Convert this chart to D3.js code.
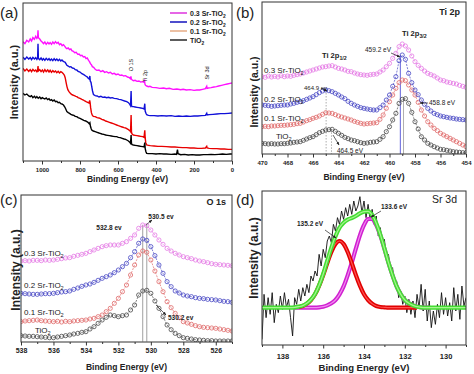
<!DOCTYPE html>
<html><head><meta charset="utf-8">
<script src="https://cdn.jsdelivr.net/npm/d3@7"></script>
<style>body{margin:0;background:#fff}svg{display:block}text{font-family:"Liberation Sans",Arial,sans-serif}</style>
</head><body><svg id="c" width="474" height="374"></svg>
<script>
// ---------- DATA ----------
// (a) survey spectra: [binding energy eV, intensity a.u.]
const surveyNames = ["0.3 Sr-TiO2","0.2 Sr-TiO2","0.1 Sr-TiO2","TiO2"];
const survey03 = [[1100,358],[1090,352],[1080,362],[1070,357],[1062,366],[1055,360],[1048,370],[1040,365],[1033,374],[1027,368],[1023,372],[1021,392],[1019,370],[1012,366],[1005,360],[998,356],[992,352],[985,357],[978,350],[970,356],[963,351],[957,355],[950,350],[943,357],[936,352],[929,358],[922,353],[915,356],[908,349],[901,352],[894,346],[887,349],[880,344],[875,340],[869,337],[862,339],[855,334],[848,336],[843,331],[835,329],[828,325],[820,326],[812,320],[805,321],[797,316],[790,317],[782,312],[775,313],[768,307],[762,309],[755,302],[750,298],[745,292],[740,289],[735,283],[728,281],[720,275],[712,272],[700,273],[690,268],[680,271],[670,266],[660,268],[650,264],[640,266],[630,261],[620,263],[610,259],[600,261],[590,257],[580,258],[570,255],[560,256],[550,252],[540,250],[535,247],[532,254],[530,246],[525,243],[519,241],[510,242],[500,239],[490,240],[480,237],[470,238],[463,236],[460,240],[458,230],[455,227],[449,225],[440,223],[432,224],[420,221],[400,220],[380,218],[360,219],[345,217],[330,218],[310,215],[290,216],[270,214],[257,215],[240,213],[220,214],[200,212],[185,213],[170,213],[155,215],[140,217],[133,224],[131,218],[125,219],[110,220],[95,222],[82,223],[70,225],[55,227],[40,229],[25,231],[10,233],[0,234]];
const survey02 = [[1100,311],[1090,305],[1080,312],[1070,306],[1062,310],[1055,304],[1048,311],[1040,306],[1033,310],[1027,305],[1023,309],[1021,352],[1019,308],[1012,304],[1005,309],[998,303],[992,307],[985,302],[978,308],[970,303],[963,307],[957,302],[950,306],[943,301],[936,307],[929,302],[922,306],[915,301],[908,305],[901,300],[895,303],[888,299],[882,297],[878,296],[874,292],[869,287],[862,285],[855,282],[848,283],[840,279],[832,278],[825,274],[817,273],[810,269],[800,267],[790,262],[780,259],[770,255],[764,253],[758,249],[752,246],[748,255],[746,240],[742,236],[738,222],[734,210],[729,199],[720,196],[710,195],[700,192],[690,194],[680,191],[670,192],[660,190],[650,191],[640,189],[630,190],[620,188],[607,187],[595,185],[585,184],[575,182],[565,180],[554,178],[545,175],[538,170],[534,166],[531,210],[529,165],[524,163],[519,163],[510,162],[500,161],[490,160],[480,159],[470,158],[463,156],[459,172],[457,150],[453,143],[449,139],[440,137],[430,136],[410,136],[390,135],[370,136],[345,135],[320,136],[300,134],[280,135],[260,134],[240,135],[220,134],[200,135],[180,135],[160,136],[140,137],[133,143],[131,138],[120,139],[100,140],[80,141],[60,142],[40,142],[20,143],[0,144]];
const survey01 = [[1100,278],[1090,270],[1080,276],[1070,269],[1062,274],[1055,268],[1048,275],[1040,270],[1033,273],[1027,268],[1023,272],[1021,285],[1019,270],[1012,274],[1005,268],[998,273],[992,267],[985,274],[978,268],[970,273],[963,267],[957,272],[950,266],[943,271],[936,267],[929,270],[922,265],[915,269],[908,264],[901,268],[895,266],[888,262],[882,257],[878,250],[874,238],[869,224],[864,214],[858,208],[852,204],[845,200],[838,198],[830,196],[822,194],[817,193],[810,190],[800,188],[790,185],[782,183],[775,180],[768,178],[760,176],[753,174],[749,182],[747,176],[744,160],[740,145],[736,138],[730,134],[720,133],[710,130],[700,129],[694,128],[685,125],[675,123],[665,120],[655,118],[645,116],[635,114],[625,112],[615,110],[607,108],[598,106],[588,104],[578,102],[568,100],[560,99],[554,97],[545,94],[538,91],[534,88],[531,138],[529,86],[525,80],[519,78],[510,77],[500,76],[490,75],[480,74],[470,73],[463,71],[459,92],[457,70],[454,55],[449,48],[440,47],[430,46],[410,45],[390,44],[370,44],[345,43],[320,42],[300,42],[280,41],[260,40],[240,40],[220,39],[200,39],[180,38],[160,38],[140,39],[133,44],[131,39],[120,38],[100,37],[80,37],[60,36],[40,36],[20,35],[0,35]];
const survey00 = [[1100,203],[1090,198],[1080,201],[1070,195],[1062,193],[1055,196],[1048,190],[1040,194],[1033,189],[1027,193],[1020,188],[1012,192],[1005,187],[998,190],[992,188],[985,186],[978,189],[970,184],[963,187],[957,182],[950,184],[943,180],[936,183],[929,178],[922,179],[915,175],[908,176],[901,172],[895,171],[887,168],[880,162],[875,156],[869,148],[862,145],[855,143],[848,140],[840,138],[832,137],[825,134],[817,133],[810,130],[800,128],[790,125],[780,122],[770,120],[764,118],[758,116],[752,112],[748,115],[745,104],[741,97],[738,93],[730,90],[720,88],[710,86],[700,84],[694,83],[685,81],[675,80],[665,78],[655,77],[645,76],[635,75],[625,74],[615,73],[607,73],[598,71],[588,70],[578,68],[568,66],[560,65],[554,63],[545,60],[538,56],[534,53],[531,78],[529,52],[525,49],[519,48],[510,47],[500,46],[490,45],[480,44],[470,43],[463,42],[459,55],[457,38],[453,28],[449,23],[440,22],[420,22],[400,21],[380,22],[360,21],[345,21],[320,20],[300,21],[292,20],[287,34],[284,22],[270,19],[250,20],[230,18],[210,19],[190,18],[170,18],[150,19],[130,19],[110,20],[90,19],[70,20],[50,21],[30,20],[10,21],[0,21]];
const surveyTicks = [0,200,400,600,800,1000];
const surveyMinor = [100,300,500,700,900,1100];
const surveyPeakNames = ["O 1S","Ti 2p","Sr 3d"];
const surveyPeakE = [531,458,133];

// (b) Ti 2p, energies 470 -> 454 eV in 0.25 eV steps
const tiStart = 470, tiStep = 0.25;
const ti03 = [232,230,234,231,233,231,235,232,234,233,236,238,240,243,246,249,252,255,258,261,262,264,265,261,257,255,252,248,247,243,240,238,237,236,238,239,240,246,252,262,272,287,302,322,330,324,312,294,277,266,257,249,242,238,234,228,222,220,216,214,212,210,206,203,200];
const ti02 = [147,146,145,143,144,145,146,147,147,150,152,155,157,160,164,168,172,178,184,189,192,190,187,182,177,171,166,158,152,147,143,139,137,135,133,132,132,139,147,162,177,203,232,280,297,284,242,214,192,178,162,149,137,129,122,118,114,112,110,108,107,105,104,103,102];
const ti01 = [82,83,82,84,84,85,86,86,87,88,89,91,92,96,100,103,107,110,114,119,124,123,122,118,114,111,108,105,102,98,95,92,90,91,92,93,94,104,117,137,157,177,197,214,222,220,207,192,177,155,132,114,97,87,77,70,62,57,52,47,42,37,32,27,22];
const ti00 = [32,31,30,31,30,30,31,31,32,33,35,36,37,41,45,49,52,58,64,68,72,73,74,68,62,56,50,46,42,40,37,34,32,33,35,36,37,44,52,67,82,102,122,152,164,166,152,125,97,75,52,42,32,27,22,18,14,13,11,9,7,6,5,4,4];
const tiTicks = [454,456,458,460,462,464,466,468,470];
const tiMinor = [455,457,459,461,463,465,467,469];
const tiGuideE = [464.97,464.55,459.15,458.9];
const tiGuideTop = [192,74,297,166];

// (c) O 1s, energies 538 -> 525 eV in 0.25 eV steps
const oStart = 538, oStep = 0.25;
const o03 = [242,243,242,244,244,243,245,244,245,247,249,251,252,256,259,262,265,270,275,280,285,288,290,290,290,295,300,310,320,340,350,348,335,320,305,292,280,272,265,260,255,252,249,245,242,240,237,234,232,231,230,229,228];
const o02 = [145,144,143,142,142,143,144,144,145,147,149,150,152,157,161,166,170,173,178,184,190,195,200,207,215,225,235,252,270,295,308,304,285,258,230,205,180,165,152,146,140,137,135,132,130,129,127,126,125,123,121,120,118];
const o01 = [60,62,63,64,65,63,62,61,60,61,59,61,60,62,63,64,65,68,70,75,80,90,100,115,130,150,170,200,230,260,272,268,245,212,180,150,120,102,85,72,60,56,52,48,45,43,42,41,40,38,36,34,32];
const o00 = [18,17,16,16,15,14,13,12,12,14,16,18,20,23,25,28,30,38,45,55,65,73,80,78,75,78,80,95,110,140,152,154,145,122,100,75,50,36,25,18,12,10,8,6,5,4,3,3,2,2,2,2,2];
const oTicks = [526,528,530,532,534,536,538];
const oMinor = [525,527,529,531,533,535,537];
const oGuideE = [530.5,530.25];
const oGuideTop = [350,350];

// (d) Sr 3d raw data, 139 -> 129 eV in 0.1 eV steps
const srStart = 139, srStep = 0.1;
const srRaw = [-95,40,-30,30,-20,45,-45,10,-15,35,-5,45,0,25,-30,-85,30,10,55,20,60,35,70,45,95,80,110,95,160,125,175,150,200,215,195,250,230,270,250,290,265,300,275,310,280,320,290,305,333,285,320,270,310,265,295,250,275,215,240,190,205,150,160,110,120,70,80,30,50,10,35,-15,25,-20,20,-30,40,0,70,-10,55,-40,20,-60,-10,-50,10,-30,45,-20,30,-25,15,-40,60,-10,40,-35,65,5,30];
// fitted components, 139 -> 129 eV in 0.2 eV steps
const fitStart = 139, fitStep = 0.2;
const N = null;
const fit1352 = [N,N,N,N,N,N,N,N,N,2,5,12,23,40,66,98,134,167,191,200,191,167,134,98,66,40,23,12,5,2,1,0,0,0,0,0,0,0,0,N,N,N,N,N,N,N,N,N,N,N,N];
const fit1336 = [N,N,N,N,N,N,N,N,0,0,0,0,0,0,1,3,7,13,23,40,64,97,135,177,217,248,266,266,248,217,177,135,97,64,40,23,13,7,3,1,0,0,N,N,N,N,N,N,N,N,N];
const fitSum = [0,0,0,0,0,0,0,0,1,3,6,13,24,41,67,101,141,180,214,240,255,264,269,275,283,288,289,278,253,219,178,135,97,64,40,23,13,7,3,1,0,0,0,0,0,0,0,0,0,0,0];
const srTicks = [130,132,134,136,138];
const srMinor = [129,131,133,135,137,139];

// ---------- DRAWING ----------
const svg = d3.select("#c");
const defs = svg.append("defs");
defs.append("marker").attr("id","arr").attr("viewBox","0 0 10 10").attr("refX",9).attr("refY",5)
  .attr("markerWidth",5).attr("markerHeight",5).attr("orient","auto")
  .append("path").attr("d","M0,1L10,5L0,9z").attr("fill","#222");

function panel(p){
  const g = svg.append("g");
  const x = d3.scaleLinear().domain(p.xd).range([p.l,p.r]);
  const y = d3.scaleLinear().domain(p.yd).range([p.b,p.t]);
  const cid = "clip"+p.name;
  defs.append("clipPath").attr("id",cid).append("rect")
    .attr("x",p.l).attr("y",p.t).attr("width",p.r-p.l).attr("height",p.b-p.t);
  const plot = g.append("g").attr("clip-path",`url(#${cid})`);
  const ax = g.append("g").attr("transform",`translate(0,${p.b})`);
  ax.append("g").call(d3.axisBottom(x).tickValues(p.minor).tickSize(2).tickFormat(""));
  ax.append("g").call(d3.axisBottom(x).tickValues(p.major).tickSize(3.5).tickPadding(p.pad).tickFormat(d3.format("d")));
  ax.selectAll(".domain").remove();
  ax.selectAll("line").attr("stroke","#333");
  ax.selectAll("text").attr("font-size",p.tickFs).attr("font-weight","bold").attr("fill","#222")
    .attr("font-family","'Liberation Sans',Arial,sans-serif");
  g.append("rect").attr("x",p.l).attr("y",p.t).attr("width",p.r-p.l).attr("height",p.b-p.t)
    .attr("fill","none").attr("stroke","#333").attr("stroke-width",1);
  g.append("text").attr("x",(p.l+p.r)/2).attr("y",p.titleY).attr("text-anchor","middle")
    .attr("font-size",p.titleFs).attr("font-weight","bold").attr("fill","#222").text("Binding Energy (eV)");
  g.append("text").attr("transform",`translate(${p.ylx},${p.yly}) rotate(-90)`).attr("text-anchor","middle")
    .attr("font-size",p.yFs).attr("font-weight","bold").attr("fill","#222").text("Intensity (a.u.)");
  g.append("text").attr("x",p.letX).attr("y",p.letY).attr("font-size",15).attr("fill","#222").text(p.letter);
  return {g, plot, x, y};
}

function label(g, x, y, main, sub, o={}){
  const fs = o.size||8;
  const t = g.append("text").attr("x",x).attr("y",y).attr("font-size",fs)
    .attr("font-weight",o.weight||"normal").attr("fill",o.fill||"#222").attr("text-anchor",o.anchor||"start");
  t.append("tspan").text(main);
  if(sub) t.append("tspan").attr("font-size",fs*0.7).attr("dy",fs*0.3).text(sub);
  return t;
}
function arrow(g,x1,y1,x2,y2){
  g.append("line").attr("x1",x1).attr("y1",y1).attr("x2",x2).attr("y2",y2)
    .attr("stroke","#222").attr("stroke-width",0.7).attr("marker-end","url(#arr)");
}

// ----- (a) -----
{
  const P = panel({name:"a",l:23,r:232,t:3,b:161,xd:[1100,0],yd:[0,474],major:surveyTicks,minor:surveyMinor,
    pad:3,tickFs:6,titleY:182,titleFs:8.5,ylx:18,yly:82,yFs:11,letter:"(a)",letX:0,letY:18});
  const series = [survey03,survey02,survey01,survey00];
  const cols = ["#ff10ff","#1010d8","#e80000","#000000"];
  const line = d3.line().x(d=>P.x(d[0])).y(d=>P.y(d[1]));
  series.forEach((s,i)=>{
    P.plot.append("path").datum(s).attr("d",line).attr("fill","none").attr("stroke",cols[i]).attr("stroke-width",1.4);
  });
  // peak labels
  const py = [65,76,73];
  surveyPeakNames.forEach((n,i)=>{
    P.g.append("text").attr("transform",`translate(${P.x(surveyPeakE[i])+2},${py[i]}) rotate(-90)`)
      .attr("text-anchor","middle").attr("font-size",5.5).attr("fill","#222").text(n);
  });
  // legend
  const legCols = ["#e040e0","#2020c0","#e8b08c","#333333"];
  const rows = [13,22,31,40];
  surveyNames.forEach((n,i)=>{
    P.g.append("line").attr("x1",170).attr("x2",187).attr("y1",rows[i]).attr("y2",rows[i])
      .attr("stroke",legCols[i]).attr("stroke-width",1.6);
    const base = n.endsWith("2") ? n.slice(0,-1) : n;
    label(P.g,190,rows[i]+2.5,base,n.endsWith("2")?"2":null,{size:7,weight:"bold"});
  });
}

// marker series helper
function markerSeries(P, start, step, vals, color){
  const pts = vals.map((v,i)=>[start - step*i, v]);
  P.plot.append("path").datum(pts).attr("d",d3.line().x(d=>P.x(d[0])).y(d=>P.y(d[1])))
    .attr("fill","none").attr("stroke",color).attr("stroke-width",0.7).attr("stroke-dasharray","2,1.2");
  P.plot.selectAll(null).data(pts).join("circle").attr("cx",d=>P.x(d[0])).attr("cy",d=>P.y(d[1]))
    .attr("r",2.1).attr("fill","none").attr("stroke",color).attr("stroke-width",0.8);
}
const mCols = ["#e47ae4","#4848c4","#e06a6a","#4a4a4a"];

// ----- (b) -----
{
  const P = panel({name:"b",l:262,r:466,t:2,b:154,xd:[470,454],yd:[0,456],major:tiTicks,minor:tiMinor,
    pad:3,tickFs:6,titleY:180,titleFs:8.5,ylx:258,yly:92,yFs:10.5,letter:"(b)",letX:236,letY:18});
  const gc = ["#999","#999","#3a3ad0","#999"], gd = ["1.5,1.5","1.5,1.5",null,null];
  tiGuideE.forEach((e,i)=>{
    P.plot.append("line").attr("x1",P.x(e)).attr("x2",P.x(e)).attr("y1",P.y(tiGuideTop[i])).attr("y2",P.y(0))
      .attr("stroke",gc[i]).attr("stroke-width",0.8).attr("stroke-dasharray",gd[i]);
  });
  [ti00,ti01,ti02,ti03].forEach((s,i)=>markerSeries(P,tiStart,tiStep,s,mCols[3-i]));
  P.g.append("text").attr("x",460).attr("y",15).attr("text-anchor","end").attr("font-size",9).attr("font-weight","bold").attr("fill","#222").text("Ti 2p");
  label(P.g,402,36,"Ti 2p","3/2",{size:7.5,weight:"bold"});
  label(P.g,322,58,"Ti 2p","1/2",{size:7.5,weight:"bold"});
  label(P.g,365,52,"459.2 eV",null,{size:6.5});
  arrow(P.g,391,53,400,57);
  label(P.g,304,90,"464.9 ev",null,{size:6});
  arrow(P.g,321,88,327,91);
  label(P.g,429,105,"458.8 eV",null,{size:6.5});
  arrow(P.g,428,103,420,103);
  label(P.g,337,153,"464.5 eV",null,{size:6.5});
  arrow(P.g,333,135,339,145);
  label(P.g,264,73,"0.3 Sr-TiO","2",{size:8});
  label(P.g,264,102,"0.2 Sr-TiO","2",{size:8});
  label(P.g,264,121,"0.1 Sr-TiO","2",{size:8});
  label(P.g,276,139,"TiO","2",{size:8});
}

// ----- (c) -----
{
  const P = panel({name:"c",l:21,r:232,t:195,b:342,xd:[538,525],yd:[-1,440],major:oTicks,minor:oMinor,
    pad:3,tickFs:7,titleY:370,titleFs:8.5,ylx:20,yly:270,yFs:12,letter:"(c)",letX:0,letY:205});
  oGuideE.forEach((e,i)=>{
    P.plot.append("line").attr("x1",P.x(e)).attr("x2",P.x(e)).attr("y1",P.y(oGuideTop[i])).attr("y2",P.y(0))
      .attr("stroke","#888").attr("stroke-width",0.8);
  });
  [o00,o01,o02,o03].forEach((s,i)=>markerSeries(P,oStart,oStep,s,mCols[3-i]));
  P.g.append("text").attr("x",226).attr("y",205).attr("text-anchor","end").attr("font-size",9).attr("font-weight","bold").attr("fill","#222").text("O 1s");
  label(P.g,109,230,"532.8 ev",null,{size:6.5,weight:"bold",anchor:"middle"});
  label(P.g,161,219,"530.5 ev",null,{size:6.5,weight:"bold",anchor:"middle"});
  arrow(P.g,146,225,152,220);
  label(P.g,168,320,"530.2 ev",null,{size:6.5,weight:"bold"});
  arrow(P.g,156,305,166,315);
  label(P.g,24,256,"0.3 Sr-TiO","2",{size:8});
  label(P.g,24,288,"0.2 Sr-TiO","2",{size:8});
  label(P.g,24,315,"0.1 Sr-TiO","2",{size:8});
  label(P.g,35,333,"TiO","2",{size:8});
}

// ----- (d) -----
{
  const P = panel({name:"d",l:262,r:466,t:191,b:345,xd:[139,129],yd:[-112,350],major:srTicks,minor:srMinor,
    pad:5,tickFs:7.5,titleY:371,titleFs:9.5,ylx:258,yly:258,yFs:12,letter:"(d)",letX:236,letY:205});
  const raw = srRaw.map((v,i)=>[srStart - srStep*i, v]);
  const ln = d3.line().defined(d=>d[1]!==null).x(d=>P.x(d[0])).y(d=>P.y(d[1]));
  P.plot.append("path").datum(raw).attr("d",ln).attr("fill","none").attr("stroke","#111").attr("stroke-width",0.9);
  const fitPts = a => a.map((v,i)=>[fitStart - fitStep*i, v]);
  const lc = d3.line().defined(d=>d[1]!==null).x(d=>P.x(d[0])).y(d=>P.y(d[1])).curve(d3.curveMonotoneX);
  const drawFit = (a,outer,inner)=>{
    P.plot.append("path").datum(fitPts(a)).attr("d",lc).attr("fill","none").attr("stroke",outer).attr("stroke-width",4.2);
    P.plot.append("path").datum(fitPts(a)).attr("d",lc).attr("fill","none").attr("stroke",inner).attr("stroke-width",1.2);
  };
  drawFit(fit1336,"#d020d0","#f08af0");
  drawFit(fit1352,"#e00000","#ff5050");
  drawFit(fitSum,"#44dd33","#a6f590");
  P.g.append("text").attr("x",457).attr("y",203).attr("text-anchor","end").attr("font-size",10.5).attr("fill","#222").text("Sr 3d");
  label(P.g,310,226,"135.2 eV",null,{size:6.5,weight:"bold",anchor:"middle"});
  arrow(P.g,325,230,336,238);
  label(P.g,394,209,"133.6 eV",null,{size:6.5,weight:"bold",anchor:"middle"});
  arrow(P.g,381,211,371,217);
}
</script></body></html>
